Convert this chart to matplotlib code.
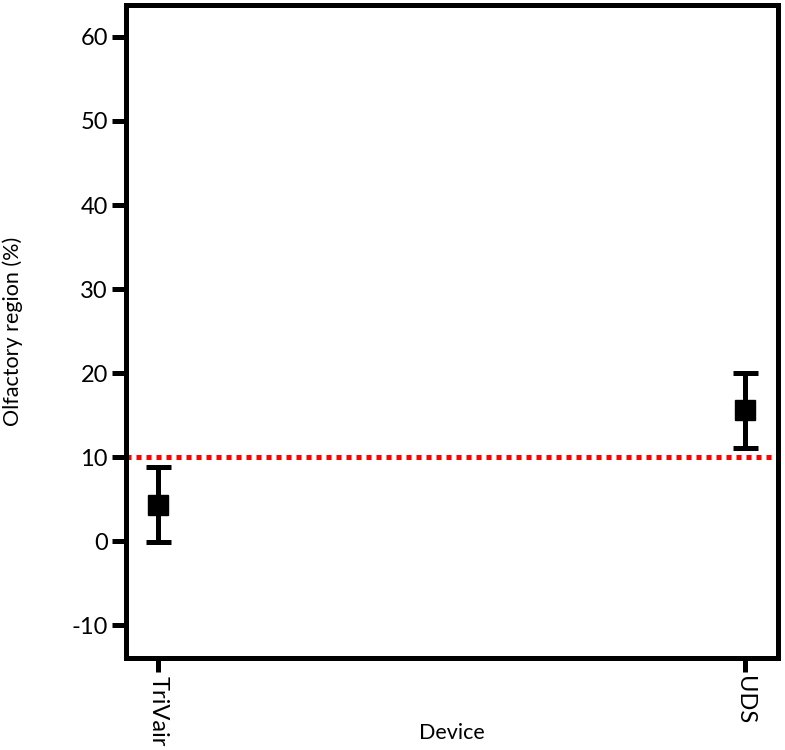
import matplotlib
matplotlib.use("Agg")
import matplotlib.pyplot as plt

plt.rcParams["font.family"] = ["Lato", "DejaVu Sans"]
plt.rcParams["axes.unicode_minus"] = False

# data
devices = ["TriVair", "UDS"]
means = [4.3, 15.6]
lower = [-0.1, 11.1]
upper = [8.8, 20.0]
threshold = 10
yticks = [-10, 0, 10, 20, 30, 40, 50, 60]

fig = plt.figure(figsize=(7.85, 7.5), dpi=100)
ax = fig.add_axes([0.1605, 0.1227, 0.83, 0.8706])

xpos = list(range(len(devices)))
yerr = [[m - lo for m, lo in zip(means, lower)], [hi - m for m, hi in zip(means, upper)]]

# 10% threshold line
ax.axhline(threshold, color="#ff0000", linewidth=3.6, linestyle=(0, (1, 1)), zorder=1)
ax.errorbar(xpos, means, yerr=yerr, fmt="s", color="black", markersize=14.5,
            elinewidth=3.6, capsize=9, capthick=3.6, zorder=3)

ax.set_xlim(-0.0545, 1.056)
ax.set_ylim(-13.9, 63.8)
ax.set_yticks(yticks)
ax.set_xticks(xpos)
ax.set_xticklabels(devices, rotation=270)

for s in ax.spines.values():
    s.set_linewidth(3.6)
ax.tick_params(axis="both", width=3.6, length=10, labelsize=17, pad=3)

ax.set_ylabel("Olfactory region (%)", fontsize=15.5)
ax.set_xlabel("Device", fontsize=15.5)
ax.yaxis.set_label_coords(-0.158, 0.5)
ax.xaxis.set_label_coords(0.5, -0.100)

fig.savefig("out.png", dpi=100)
